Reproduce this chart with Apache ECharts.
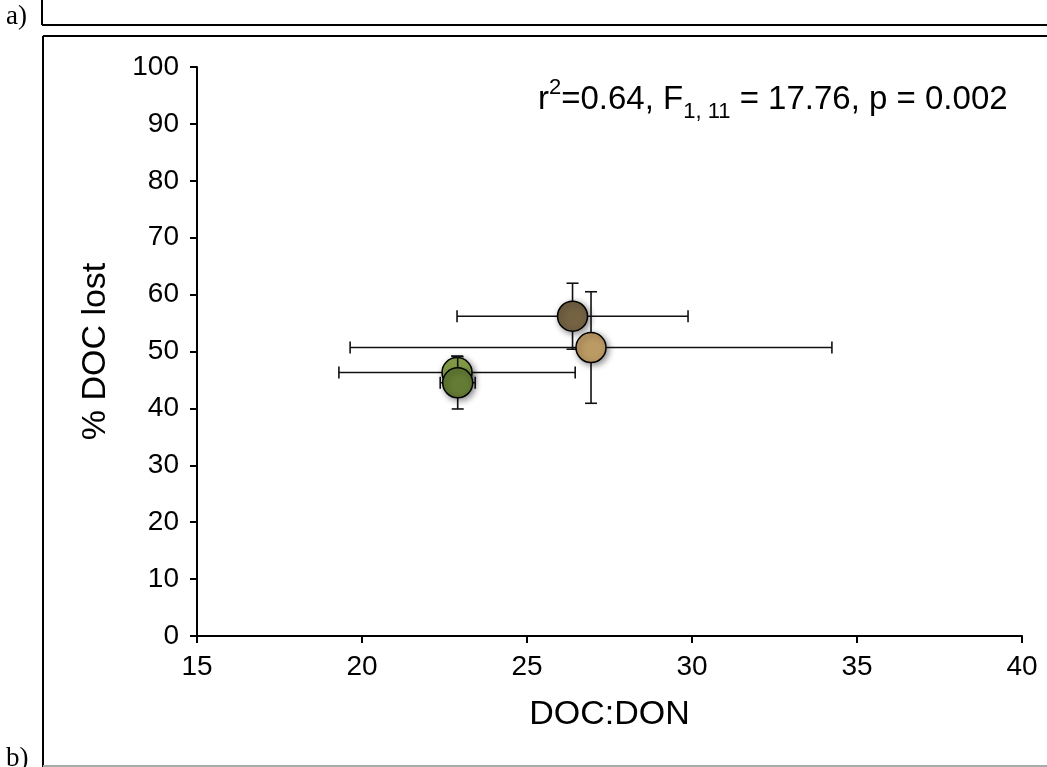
<!DOCTYPE html>
<html>
<head>
<meta charset="utf-8">
<script src="https://cdn.jsdelivr.net/npm/echarts@6/dist/echarts.min.js"></script>
<style>
html,body{margin:0;padding:0;background:#fff;}
#chart{width:1047px;height:767px;}
</style>
</head>
<body>
<div id="chart"></div>
<script>
// ---- data ----
const docDon  = [26.38, 26.94, 22.88, 22.90];   // x: DOC:DON
const docLost = [56.2, 50.7, 46.3, 44.5];       // y: % DOC lost
const xErr    = [3.50, 7.30, 3.58, 0.53];
const yErr    = [5.8, 9.8, 2.9, 4.6];
const pointColors = ['#746243', '#bc9a64', '#8ca64b', '#637b34'];
const xTicks = [15, 20, 25, 30, 35, 40];
const yTicks = [0, 10, 20, 30, 40, 50, 60, 70, 80, 90, 100];
const annotation = {r2: '0.64', df: '1, 11', F: '17.76', p: '0.002'};

const font = '"Liberation Sans", Arial, Helvetica, sans-serif';
const chart = echarts.init(document.getElementById('chart'));

const pts = docDon.map((x, i) => [x, docLost[i], xErr[i], yErr[i]]);

function renderErr(params, api) {
  const x = api.value(0), y = api.value(1), xe = api.value(2), ye = api.value(3);
  const c = api.coord([x, y]);
  const l = api.coord([x - xe, y]), r = api.coord([x + xe, y]);
  const t = api.coord([x, y + ye]), b = api.coord([x, y - ye]);
  const cap = 6;
  const st = {stroke: '#111', lineWidth: 1.6};
  const ln = (x1, y1, x2, y2) => ({type: 'line', shape: {x1, y1, x2, y2}, style: st});
  return {type: 'group', children: [
    ln(l[0], c[1], r[0], c[1]),
    ln(l[0], c[1] - cap, l[0], c[1] + cap),
    ln(r[0], c[1] - cap, r[0], c[1] + cap),
    ln(c[0], t[1], c[0], b[1]),
    ln(c[0] - cap, t[1], c[0] + cap, t[1]),
    ln(c[0] - cap, b[1], c[0] + cap, b[1])
  ]};
}

const series = [];
pts.forEach((p, i) => {
  series.push({
    type: 'custom', renderItem: renderErr, data: [p], z: 2 + i * 2,
    encode: {x: 0, y: 1}, silent: true
  });
  series.push({
    type: 'scatter', data: [[p[0], p[1]]], symbol: 'circle', symbolSize: 30, z: 3 + i * 2,
    itemStyle: {color: pointColors[i], borderColor: '#000', borderWidth: 1.5, opacity: 1,
      shadowBlur: 6, shadowColor: 'rgba(0,0,0,0.45)', shadowOffsetX: 2, shadowOffsetY: 2},
    emphasis: {disabled: true}
  });
});

chart.setOption({
  animation: false,
  backgroundColor: '#fff',
  grid: {left: 197, right: 25, top: 67, bottom: 131, containLabel: false},
  xAxis: {
    type: 'value', min: xTicks[0], max: xTicks[xTicks.length - 1], interval: 5,
    name: 'DOC:DON', nameLocation: 'middle', nameGap: 62,
    nameTextStyle: {fontFamily: font, fontSize: 34, color: '#000'},
    axisLine: {show: true, lineStyle: {color: '#000', width: 2}},
    axisTick: {show: true, length: 7, lineStyle: {color: '#000', width: 2}},
    axisLabel: {fontFamily: font, fontSize: 28, color: '#000', margin: 17},
    splitLine: {show: false}
  },
  yAxis: {
    type: 'value', min: yTicks[0], max: yTicks[yTicks.length - 1], interval: 10,
    name: '% DOC lost', nameLocation: 'middle', nameRotate: 90, nameGap: 84,
    nameTextStyle: {fontFamily: font, fontSize: 34, color: '#000'},
    axisLine: {show: true, lineStyle: {color: '#000', width: 2}},
    axisTick: {show: true, length: 7, lineStyle: {color: '#000', width: 2}},
    axisLabel: {fontFamily: font, fontSize: 28, color: '#000', margin: 18},
    splitLine: {show: false}
  },
  graphic: [
    {type: 'line', shape: {x1: 42, y1: 0, x2: 42, y2: 25}, style: {stroke: '#000', lineWidth: 2}},
    {type: 'line', shape: {x1: 42, y1: 25, x2: 1047, y2: 25}, style: {stroke: '#000', lineWidth: 2}},
    {type: 'line', shape: {x1: 43, y1: 36, x2: 1047, y2: 36}, style: {stroke: '#000', lineWidth: 2}},
    {type: 'line', shape: {x1: 43, y1: 36, x2: 43, y2: 767}, style: {stroke: '#000', lineWidth: 2}},
    {type: 'line', shape: {x1: 43, y1: 766, x2: 1047, y2: 766}, style: {stroke: '#aaa', lineWidth: 2}},
    {type: 'text', left: 6, top: 3, style: {text: 'a)', font: '27px "Liberation Serif", "Times New Roman", serif', fill: '#000'}},
    {type: 'text', left: 6, top: 745, style: {text: 'b)', font: '27px "Liberation Serif", "Times New Roman", serif', fill: '#000'}},
    {type: 'text', left: 538, top: 77, z: 20, style: {
      text: '{a|r}{sup|2}{a|=' + annotation.r2 + ', F}{sub|' + annotation.df + '}{a| = ' + annotation.F + ', p = ' + annotation.p + '}',
      rich: {
        a: {fontFamily: font, fontSize: 33, color: '#000', lineHeight: 39, verticalAlign: 'bottom'},
        sup: {fontFamily: font, fontSize: 22, color: '#000', lineHeight: 39, verticalAlign: 'top'},
        sub: {fontFamily: font, fontSize: 22, color: '#000', lineHeight: 39, verticalAlign: 'bottom', padding: [0, 0, -7, 0]}
      }
    }}
  ],
  series: series
});
</script>
</body>
</html>
